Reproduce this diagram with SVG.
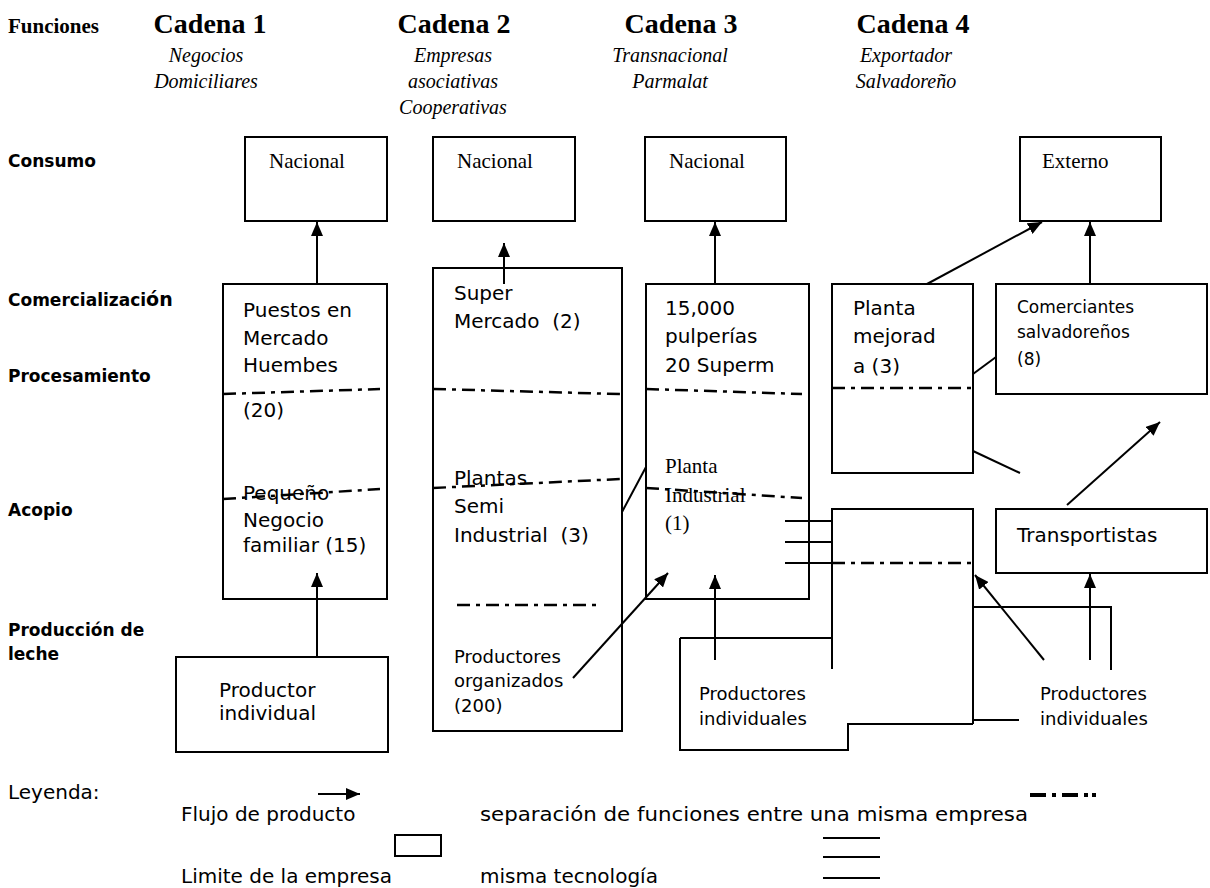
<svg xmlns="http://www.w3.org/2000/svg" width="1210" height="888" viewBox="0 0 1210 888">
  <defs>
    <marker id="arrow" markerUnits="userSpaceOnUse" markerWidth="14" markerHeight="12" refX="14" refY="6" orient="auto">
      <path d="M0,0 L14,6 L0,12 z" fill="#000"/>
    </marker>
    <style>
      .box{fill:none;stroke:#000;stroke-width:2}
      .ln{fill:none;stroke:#000;stroke-width:2}
      .fl{fill:none;stroke:#000;stroke-width:2;marker-end:url(#arrow)}
      .dd{fill:none;stroke:#000;stroke-width:2.5;stroke-dasharray:13 6 4 6}
      .hd{font-family:"Liberation Serif",serif;font-weight:bold;font-size:28px;text-anchor:middle}
      .fn{font-family:"Liberation Serif",serif;font-weight:bold;font-size:21px}
      .sub{font-family:"Liberation Serif",serif;font-style:italic;font-size:20px;text-anchor:middle}
      .lbl{font-family:"DejaVu Sans",sans-serif;font-weight:bold;font-size:17px}
      .t{font-family:"DejaVu Sans",sans-serif;font-size:20px}
      .ts{font-family:"DejaVu Sans",sans-serif;font-size:18px}
      .tc{font-family:"DejaVu Sans",sans-serif;font-size:17px}
      .tr{font-family:"Liberation Serif",serif;font-size:21px}
    </style>
  </defs>
  <rect width="1210" height="888" fill="#fff"/>

  <!-- column headers -->
  <g id="headers">
    <text class="fn" x="8" y="33">Funciones</text>
    <text class="hd" x="210" y="33">Cadena 1</text>
    <text class="hd" x="454" y="33">Cadena 2</text>
    <text class="hd" x="681" y="33">Cadena 3</text>
    <text class="hd" x="913" y="33">Cadena 4</text>
    <text class="sub" x="206" y="62">Negocios</text>
    <text class="sub" x="206" y="88">Domiciliares</text>
    <text class="sub" x="453" y="62">Empresas</text>
    <text class="sub" x="453" y="88">asociativas</text>
    <text class="sub" x="453" y="114">Cooperativas</text>
    <text class="sub" x="670" y="62">Transnacional</text>
    <text class="sub" x="670" y="88">Parmalat</text>
    <text class="sub" x="906" y="62">Exportador</text>
    <text class="sub" x="906" y="88">Salvadoreño</text>
  </g>

  <!-- function rows -->
  <g id="rows">
    <text class="lbl" x="8" y="167">Consumo</text>
    <text class="lbl" x="8" y="306">Comercializaci<tspan font-size="19">ón</tspan></text>
    <text class="lbl" x="8" y="382">Procesamiento</text>
    <text class="lbl" x="8" y="516">Acopio</text>
    <text class="lbl" x="8" y="636">Producción de</text>
    <text class="lbl" x="8" y="660">leche</text>
  </g>

  <!-- consumption -->
  <g id="nacional1">
    <rect class="box" x="245" y="137" width="142" height="84"/>
    <text class="tr" x="269" y="168">Nacional</text>
  </g>
  <g id="nacional2">
    <rect class="box" x="433" y="137" width="142" height="84"/>
    <text class="tr" x="457" y="168">Nacional</text>
  </g>
  <g id="nacional3">
    <rect class="box" x="645" y="137" width="141" height="84"/>
    <text class="tr" x="669" y="168">Nacional</text>
  </g>
  <g id="externo">
    <rect class="box" x="1020" y="137" width="141" height="84"/>
    <text class="tr" x="1042" y="168">Externo</text>
  </g>

  <!-- chain 1 -->
  <g id="puestos">
    <rect class="box" x="223" y="284" width="164" height="315"/>
    <path class="dd" d="M223,394 L380,389"/>
    <path class="dd" d="M223,499 L380,489"/>
    <text class="t" x="243" y="317">Puestos en</text>
    <text class="t" x="243" y="345">Mercado</text>
    <text class="t" x="243" y="372">Huembes</text>
    <text class="t" x="243" y="417">(20)</text>
    <text class="t" x="243" y="500">Pequeño</text>
    <text class="t" x="243" y="527">Negocio</text>
    <text class="t" x="243" y="552">familiar (15)</text>
  </g>
  <g id="productor">
    <rect class="box" x="176" y="657" width="212" height="95"/>
    <text class="t" x="219" y="697">Productor</text>
    <text class="t" x="219" y="720">individual</text>
  </g>

  <!-- chain 2 -->
  <g id="supermercado">
    <rect class="box" x="433" y="268" width="189" height="463"/>
    <path class="dd" d="M433,389 L620,394"/>
    <path class="dd" d="M433,488 L620,479"/>
    <path class="dd" d="M457,605 L597,605"/>
    <text class="t" x="454" y="300">Super</text>
    <text class="t" x="454" y="328" xml:space="preserve">Mercado  (2)</text>
    <text class="t" x="454" y="485">Plantas</text>
    <text class="t" x="454" y="513">Semi</text>
    <text class="t" x="454" y="542" xml:space="preserve">Industrial  (3)</text>
    <text class="ts" x="454" y="663">Productores</text>
    <text class="ts" x="454" y="687">organizados</text>
    <text class="ts" x="454" y="712">(200)</text>
  </g>

  <!-- chain 3 -->
  <g id="parmalat">
    <rect class="box" x="646" y="284" width="163" height="315"/>
    <path class="dd" d="M646,389 L802,394"/>
    <path class="dd" d="M646,488 L802,498"/>
    <text class="t" x="665" y="315">15,000</text>
    <text class="t" x="665" y="343">pulperías</text>
    <text class="t" x="665" y="372">20 Superm</text>
    <text class="tr" x="665" y="473">Planta</text>
    <text class="tr" x="665" y="502">Industrial</text>
    <text class="tr" x="665" y="530">(1)</text>
  </g>
  <g id="productores3">
    <path class="ln" d="M680,638 H832 M680,638 V750 H848 V724 H973"/>
    <text class="ts" x="699" y="700">Productores</text>
    <text class="ts" x="699" y="725">individuales</text>
  </g>

  <!-- chain 4 -->
  <g id="planta-mejorada">
    <rect class="box" x="832" y="284" width="141" height="189"/>
    <path class="dd" d="M832,388 L971,388"/>
    <text class="t" x="853" y="315">Planta</text>
    <text class="t" x="853" y="343">mejorad</text>
    <text class="t" x="853" y="373">a (3)</text>
  </g>
  <g id="comerciantes">
    <rect class="box" x="996" y="284" width="211" height="110"/>
    <text class="tc" x="1017" y="313">Comerciantes</text>
    <text class="tc" x="1017" y="338">salvadoreños</text>
    <text class="tc" x="1017" y="365">(8)</text>
  </g>
  <g id="acopio4">
    <path class="ln" d="M832,669 V509 H973 V724"/>
    <path class="dd" d="M832,563 L973,563"/>
  </g>
  <g id="transportistas">
    <rect class="box" x="996" y="509" width="211" height="64"/>
    <text class="t" x="1017" y="542">Transportistas</text>
  </g>
  <g id="productores4">
    <text class="ts" x="1040" y="700">Productores</text>
    <text class="ts" x="1040" y="725">individuales</text>
  </g>

  <!-- connectors -->
  <g id="connectors">
    <line class="fl" x1="317" y1="284" x2="317" y2="222"/>
    <line class="fl" x1="504" y1="284" x2="504" y2="243"/>
    <line class="fl" x1="715" y1="284" x2="715" y2="222"/>
    <line class="fl" x1="1090" y1="284" x2="1090" y2="222"/>
    <line class="fl" x1="927" y1="284" x2="1042" y2="222"/>
    <line class="fl" x1="1067" y1="505" x2="1160" y2="422"/>
    <line class="fl" x1="317" y1="657" x2="317" y2="573"/>
    <line class="fl" x1="573" y1="678" x2="668" y2="573"/>
    <line class="fl" x1="715" y1="660" x2="715" y2="575"/>
    <line class="fl" x1="1044" y1="660" x2="975" y2="575"/>
    <line class="fl" x1="1090" y1="660" x2="1090" y2="574"/>
    <line class="ln" x1="622" y1="512" x2="646" y2="467"/>
    <line class="ln" x1="973" y1="374" x2="996" y2="357"/>
    <line class="ln" x1="973" y1="451" x2="1020" y2="473"/>
    <path class="ln" d="M785,521 H832 M785,542 H832 M785,563 H832"/>
    <path class="ln" d="M973,607 H1111 V670"/>
    <line class="ln" x1="973" y1="720" x2="1019" y2="720"/>
  </g>

  <!-- legend -->
  <g id="legend">
    <text class="t" x="8" y="799">Leyenda:</text>
    <line class="fl" x1="318" y1="794" x2="360" y2="794"/>
    <path stroke="#000" stroke-width="4" d="M1030,795 H1046 M1052,795 H1056 M1062,795 H1078 M1084,795 H1088 M1092,795 H1096"/>
    <text class="t" x="181" y="821">Flujo de producto</text>
    <text class="t" x="480" y="821" textLength="548" lengthAdjust="spacingAndGlyphs">separación de funciones entre una misma empresa</text>
    <rect class="box" x="395" y="835" width="46" height="21"/>
    <path class="ln" d="M823,838 H880 M823,857 H880 M823,878 H880"/>
    <text class="t" x="181" y="883">Limite de la empresa</text>
    <text class="t" x="480" y="883">misma tecnología</text>
  </g>
</svg>
